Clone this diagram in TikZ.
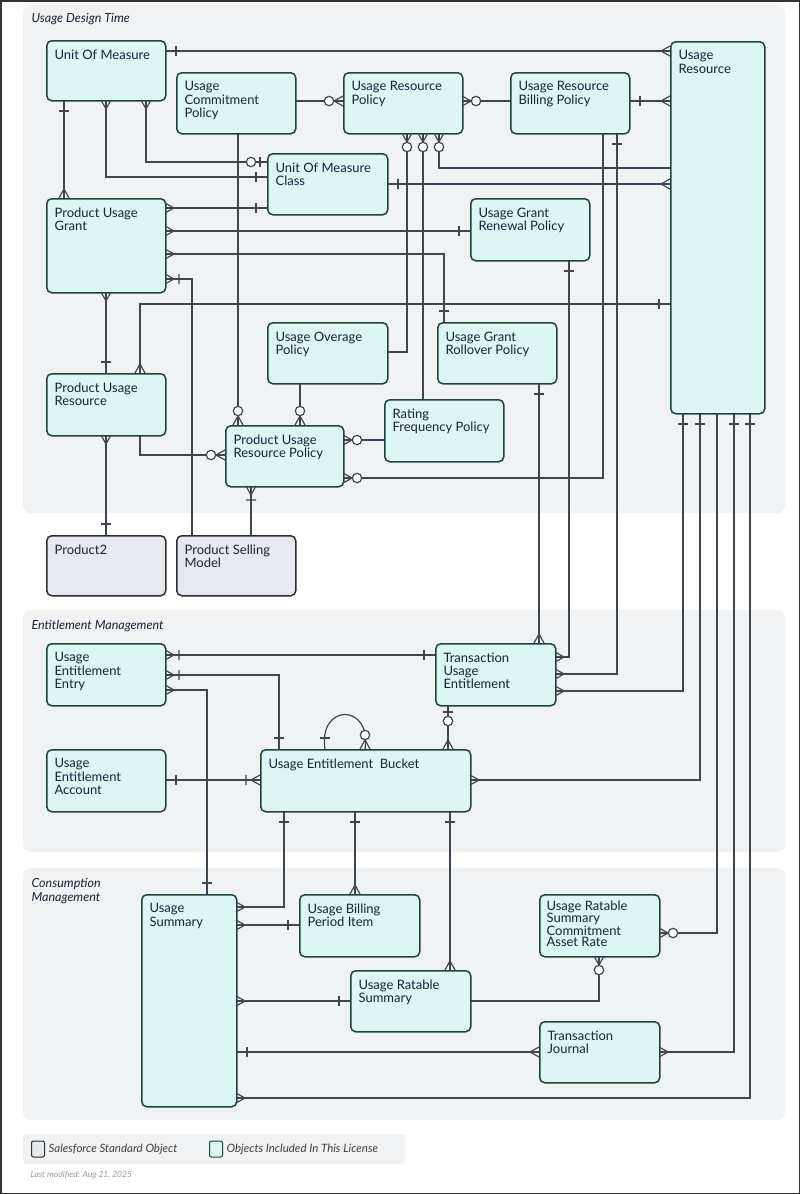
\documentclass[tikz,border=0pt]{standalone}
\usepackage{fontspec}
\setmainfont{Lato}
\begin{document}
\begin{tikzpicture}[x=1pt,y=1pt,
  line width=1.2pt,
  con/.style={draw=lc,line width=1.2pt},
  ent/.style={draw=bd,fill=ef,line width=1.5pt,rounded corners=5pt,anchor=north west,inner sep=0pt},
  std/.style={ent,fill=sf,draw=sb},
  lbl/.style={anchor=north west,align=left,inner sep=0pt,text=tx,font=\fontsize{13}{13.2}\selectfont},
  pan/.style={fill=pf,draw=none,rounded corners=8pt},
  ptl/.style={anchor=west,inner sep=0pt,text=tx,font=\fontsize{12.5}{13.5}\selectfont\itshape},
  crow/.pic={\draw[lc,line width=1.2pt] (0,5)--(9,0)--(0,-5);},
  one/.pic={\draw[lc,line width=1.2pt] (11,-5)--(11,5);},
  onecrow/.pic={\draw[lc,line width=1.2pt] (0,5)--(9,0)--(0,-5) (14,-5)--(14,5);},
  zcrow/.pic={\draw[lc,line width=1.2pt] (0,5)--(9,0)--(0,-5); \draw[lc,line width=1.2pt,fill=white] (14,0) circle (4.7);},
  zone/.pic={\draw[lc,line width=1.2pt] (7,-5)--(7,5); \draw[lc,line width=1.2pt,fill=white] (16,0) circle (4.7);},
]
\definecolor{lc}{HTML}{3F4552}
\definecolor{bd}{HTML}{1E4442}
\definecolor{ef}{HTML}{DDF6F3}
\definecolor{sf}{HTML}{E8E9EE}
\definecolor{sb}{HTML}{2B2F36}
\definecolor{pf}{HTML}{F1F2F4}
\definecolor{tx}{HTML}{16233A}
\useasboundingbox (0,0) rectangle (800,-1194);
\fill[white] (0,0) rectangle (800,-1194);
\draw[black!80,line width=1.5pt] (0.75,-0.75) rectangle (799.25,-1193.25);
% panels
\path[pan] (23,-5) rectangle (785,-513);
\path[pan] (23,-610) rectangle (785,-852);
\path[pan] (23,-868) rectangle (785,-1120);
\node[ptl] (t1) at (31,-19) {Usage Design Time};
\node[ptl] (t2) at (31,-626) {Entitlement Management};
\node[ptl,align=left,anchor=north west] (t3) at (31,-878) {Consumption\\Management};

% connectors
\draw[con] (165,-51)--(670,-51);
\draw[con] (295,-101)--(343,-101);
\draw[con] (462,-101)--(510,-101);
\draw[con] (629,-101)--(670,-101);
\draw[con] (64,-100)--(64,-198);
\draw[con] (106,-100)|-(267,-177);
\draw[con] (146,-100)|-(267,-162);
\draw[con] (238,-133)--(238,-425);
\draw[con] (407,-133)|-(387,-352);
\draw[con] (423,-133)--(423,-399);
\draw[con] (439,-133)|-(670,-168);
\draw[con] (387,-184)--(670,-184);
\draw[con] (165,-208)--(267,-208);
\draw[con] (165,-231)--(470,-231);
\draw[con] (165,-254)-|(444,-322);
\draw[con] (165,-279)-|(192,-535);
\draw[con] (106,-292)--(106,-373);
\draw[con] (670,-304)-|(140,-373);
\draw[con] (106,-435)--(106,-535);
\draw[con] (140,-435)|-(225,-455);
\draw[con] (300,-383)--(300,-425);
\draw[con] (384,-440)--(343,-440);
\draw[con] (343,-478)-|(603,-133);
\draw[con] (251,-486)--(251,-535);
\draw[con] (617,-133)|-(555,-674);
\draw[con] (569,-260)|-(555,-657);
\draw[con] (539,-383)--(539,-643);
\draw[con] (683,-413)|-(555,-691);
\draw[con] (700,-413)|-(470,-780);
\draw[con] (717,-413)|-(659,-933);
\draw[con] (734,-413)|-(659,-1052);
\draw[con] (750,-413)|-(236,-1098);
\draw[con] (435,-655)--(165,-655);
\draw[con] (279,-749)|-(165,-675);
\draw[con] (165,-690)-|(207,-894);
\draw[con] (325,-749) .. controls (318,-703) and (372,-703) .. (365,-749);
\draw[con] (448,-705)--(448,-749);
\draw[con] (165,-780)--(260,-780);
\draw[con] (284,-811)|-(236,-907);
\draw[con] (355,-811)--(355,-894);
\draw[con] (450,-811)--(450,-970);
\draw[con] (236,-925)--(299,-925);
\draw[con] (236,-1001)--(350,-1001);
\draw[con] (470,-1001)-|(599,-956);
\draw[con] (236,-1052)--(539,-1052);

% entities
\node[ent,minimum width=119,minimum height=60] (uom) at (46,-40) {};
\node[ent,minimum width=119,minimum height=61] (ucp) at (176,-72) {};
\node[ent,minimum width=119,minimum height=61] (urp) at (343,-72) {};
\node[ent,minimum width=119,minimum height=61] (urbp) at (510,-72) {};
\node[ent,minimum width=94,minimum height=372] (ur) at (670,-41) {};
\node[ent,minimum width=120,minimum height=61] (uomc) at (267,-153) {};
\node[ent,minimum width=119,minimum height=94] (pug) at (46,-198) {};
\node[ent,minimum width=119,minimum height=62] (ugrp) at (470,-198) {};
\node[ent,minimum width=120,minimum height=61] (uop) at (267,-322) {};
\node[ent,minimum width=119,minimum height=61] (ugro) at (437,-322) {};
\node[ent,minimum width=119,minimum height=62] (pur) at (46,-373) {};
\node[ent,minimum width=119,minimum height=62] (rfp) at (384,-399) {};
\node[ent,minimum width=118,minimum height=61] (purp) at (225,-425) {};
\node[std,minimum width=119,minimum height=60] (p2) at (46,-535) {};
\node[std,minimum width=119,minimum height=60] (psm) at (176,-535) {};
\node[ent,minimum width=119,minimum height=62] (uee) at (46,-643) {};
\node[ent,minimum width=120,minimum height=62] (tue) at (435,-643) {};
\node[ent,minimum width=119,minimum height=62] (uea) at (46,-749) {};
\node[ent,minimum width=210,minimum height=62] (ueb) at (260,-749) {};
\node[ent,minimum width=95,minimum height=212] (us) at (141,-894) {};
\node[ent,minimum width=120,minimum height=62] (ubpi) at (299,-894) {};
\node[ent,minimum width=120,minimum height=62] (urscar) at (539,-894) {};
\node[ent,minimum width=120,minimum height=61] (urs) at (350,-970) {};
\node[ent,minimum width=120,minimum height=61] (tj) at (539,-1021) {};

% labels
\node[lbl] (l1) at ([shift={(8,-9)}]uom.north west) {Unit Of Measure};
\node[lbl] (l2) at ([shift={(8,-9)}]ucp.north west) {Usage\\Commitment\\Policy};
\node[lbl] (l3) at ([shift={(8,-9)}]urp.north west) {Usage Resource\\Policy};
\node[lbl] (l4) at ([shift={(8,-9)}]urbp.north west) {Usage Resource\\Billing Policy};
\node[lbl] (l5) at ([shift={(8,-9)}]ur.north west) {Usage\\Resource};
\node[lbl] (l6) at ([shift={(8,-9)}]uomc.north west) {Unit Of Measure\\Class};
\node[lbl] (l7) at ([shift={(8,-9)}]pug.north west) {Product Usage\\Grant};
\node[lbl] (l8) at ([shift={(8,-9)}]ugrp.north west) {Usage Grant\\Renewal Policy};
\node[lbl] (l9) at ([shift={(8,-9)}]uop.north west) {Usage Overage\\Policy};
\node[lbl] (l10) at ([shift={(8,-9)}]ugro.north west) {Usage Grant\\Rollover Policy};
\node[lbl] (l11) at ([shift={(8,-9)}]pur.north west) {Product Usage\\Resource};
\node[lbl] (l12) at ([shift={(8,-9)}]rfp.north west) {Rating\\Frequency Policy};
\node[lbl] (l13) at ([shift={(8,-9)}]purp.north west) {Product Usage\\Resource Policy};
\node[lbl] (l14) at ([shift={(8,-9)}]p2.north west) {Product2};
\node[lbl] (l15) at ([shift={(8,-9)}]psm.north west) {Product Selling\\Model};
\node[lbl] (l16) at ([shift={(8,-9)}]uee.north west) {Usage\\Entitlement\\Entry};
\node[lbl] (l17) at ([shift={(8,-9)}]tue.north west) {Transaction\\Usage\\Entitlement};
\node[lbl] (l18) at ([shift={(8,-9)}]uea.north west) {Usage\\Entitlement\\Account};
\node[lbl] (l19) at ([shift={(8,-9)}]ueb.north west) {Usage Entitlement\ \ Bucket};
\node[lbl] (l20) at ([shift={(8,-9)}]us.north west) {Usage\\Summary};
\node[lbl] (l21) at ([shift={(8,-9)}]ubpi.north west) {Usage Billing\\Period Item};
\node[lbl,font=\fontsize{13}{11.2}\selectfont] (l22) at ([shift={(7,-6)}]urscar.north west) {Usage Ratable\\Summary\\Commitment\\Asset Rate};
\node[lbl] (l23) at ([shift={(8,-9)}]urs.north west) {Usage Ratable\\Summary};
\node[lbl] (l24) at ([shift={(8,-9)}]tj.north west) {Transaction\\Journal};

% markers
\pic[rotate=0] at (165,-51) {one};
\pic[rotate=180] at (670,-51) {crow};
\pic[rotate=180] at (343,-101) {zcrow};
\pic[rotate=0] at (462,-101) {zcrow};
\pic[rotate=0] at (629,-101) {one};
\pic[rotate=180] at (670,-101) {crow};
\pic[rotate=-90] at (64,-100) {one};
\pic[rotate=90] at (64,-198) {crow};
\pic[rotate=-90] at (106,-100) {crow};
\pic[rotate=180] at (267,-177) {one};
\pic[rotate=-90] at (146,-100) {crow};
\pic[rotate=180] at (267,-162) {zone};
\pic[rotate=90] at (238,-425) {zcrow};
\pic[rotate=-90] at (407,-133) {zcrow};
\pic[rotate=-90] at (423,-133) {zcrow};
\pic[rotate=-90] at (439,-133) {zcrow};
\pic[rotate=0] at (387,-184) {one};
\pic[rotate=180] at (670,-184) {crow};
\pic[rotate=0] at (165,-208) {crow};
\pic[rotate=180] at (267,-208) {one};
\pic[rotate=0] at (165,-231) {crow};
\pic[rotate=180] at (470,-231) {one};
\pic[rotate=0] at (165,-254) {crow};
\pic[rotate=90] at (444,-322) {one};
\pic[rotate=0] at (165,-279) {onecrow};
\pic[rotate=-90] at (106,-292) {crow};
\pic[rotate=90] at (106,-373) {one};
\pic[rotate=180] at (670,-304) {one};
\pic[rotate=90] at (140,-373) {crow};
\pic[rotate=-90] at (106,-435) {crow};
\pic[rotate=90] at (106,-535) {one};
\pic[rotate=180] at (225,-455) {zcrow};
\pic[rotate=90] at (300,-425) {zcrow};
\pic[rotate=0] at (343,-440) {zcrow};
\pic[rotate=0] at (343,-478) {zcrow};
\pic[rotate=-90] at (251,-486) {onecrow};
\pic[rotate=-90] at (617,-133) {one};
\pic[rotate=0] at (555,-674) {crow};
\pic[rotate=-90] at (569,-260) {one};
\pic[rotate=0] at (555,-657) {crow};
\pic[rotate=-90] at (539,-383) {one};
\pic[rotate=90] at (539,-643) {crow};
\pic[rotate=-90] at (683,-413) {one};
\pic[rotate=0] at (555,-691) {crow};
\pic[rotate=-90] at (700,-413) {one};
\pic[rotate=0] at (470,-780) {crow};
\pic[rotate=0] at (659,-933) {zcrow};
\pic[rotate=-90] at (734,-413) {one};
\pic[rotate=0] at (659,-1052) {crow};
\pic[rotate=-90] at (750,-413) {one};
\pic[rotate=0] at (236,-1098) {crow};
\pic[rotate=180] at (435,-655) {one};
\pic[rotate=0] at (165,-655) {onecrow};
\pic[rotate=90] at (279,-749) {one};
\pic[rotate=0] at (165,-675) {onecrow};
\pic[rotate=0] at (165,-690) {crow};
\pic[rotate=90] at (207,-894) {one};
\pic[rotate=90] at (325,-749) {one};
\pic[rotate=90] at (365,-749) {zcrow};
\pic[rotate=-90] at (448,-705) {zone};
\pic[rotate=90] at (448,-749) {crow};
\pic[rotate=0] at (165,-780) {one};
\pic[rotate=180] at (260,-780) {onecrow};
\pic[rotate=-90] at (284,-811) {one};
\pic[rotate=0] at (236,-907) {crow};
\pic[rotate=-90] at (355,-811) {one};
\pic[rotate=90] at (355,-894) {crow};
\pic[rotate=-90] at (450,-811) {one};
\pic[rotate=90] at (450,-970) {crow};
\pic[rotate=0] at (236,-925) {crow};
\pic[rotate=180] at (299,-925) {one};
\pic[rotate=0] at (236,-1001) {crow};
\pic[rotate=180] at (350,-1001) {one};
\pic[rotate=-90] at (599,-956) {zcrow};
\pic[rotate=0] at (236,-1052) {one};
\pic[rotate=180] at (539,-1052) {crow};

% legend
\path[fill=pf,rounded corners=4pt] (23,-1134) rectangle (405,-1164);
\node[draw=sb,fill=sf,line width=1pt,rounded corners=2pt,minimum width=13,minimum height=16,inner sep=0pt] (lg1) at (38,-1149) {};
\node[ptl,font=\fontsize{11.5}{12}\selectfont\itshape,text=black!75] (lt1) at (48,-1149) {Salesforce Standard Object};
\node[draw=bd,fill=ef,line width=1pt,rounded corners=2pt,minimum width=13,minimum height=16,inner sep=0pt] (lg2) at (216,-1149) {};
\node[ptl,font=\fontsize{11.5}{12}\selectfont\itshape,text=black!75] (lt2) at (226,-1149) {Objects Included In This License};
\node[ptl,font=\fontsize{8.5}{9}\selectfont\itshape,text=black!40] (lm) at (30,-1175) {Last modified: Aug 21, 2025};
\end{tikzpicture}
\end{document}
